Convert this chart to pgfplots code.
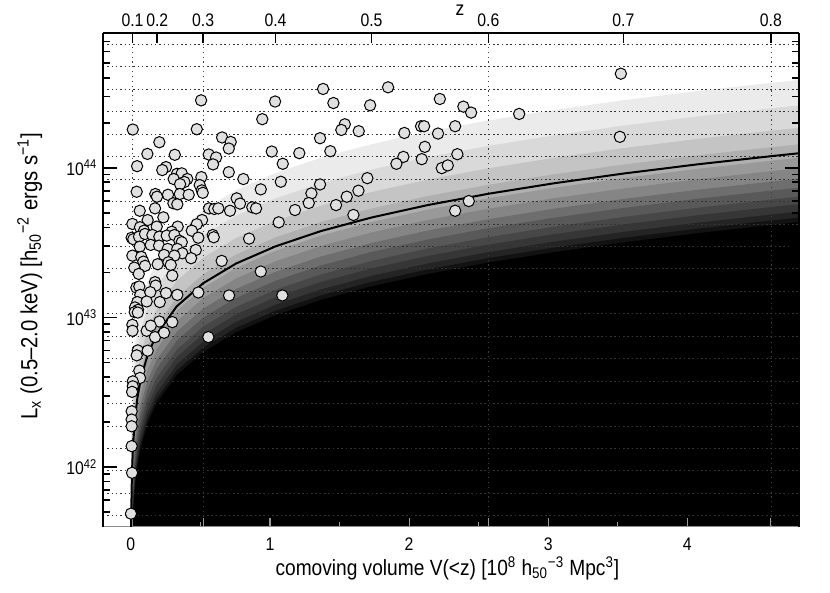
\documentclass[border=0pt]{standalone}
\usepackage{fontspec}
\setmainfont{Liberation Sans}[FakeStretch=0.87]
\usepackage{pgfplots}
\usepackage{pgfplotstable}
\pgfplotsset{compat=1.18}

% flux limit curve: comoving volume V [1e8] and log10 Lx
\pgfplotstableread{
V lg
0.000114 40.761
0.000268 40.994
0.000517 41.176
0.000884 41.324
0.00205 41.558
0.00392 41.740
0.00663 41.889
0.01031 42.016
0.01506 42.126
0.02822 42.309
0.04681 42.460
0.0714 42.588
0.1205 42.750
0.1852 42.886
0.3295 43.074
0.5203 43.229
0.7575 43.361
1.0396 43.475
1.3647 43.577
1.7302 43.668
2.1336 43.751
2.5721 43.827
3.0429 43.897
3.5433 43.962
4.0711 44.023
4.6234 44.080
4.851 44.102
}\limitcurve

% clusters: V and log10 Lx
\pgfplotstableread{
V lg
0.505 44.451
0.014 44.256
0.474 44.258
0.945 44.325
0.205 44.171
0.656 44.203
0.718 44.173
0.704 44.129
0.119 44.093
0.316 44.087
0.560 44.089
0.613 44.069
0.591 44.023
0.045 44.011
0.253 44.005
0.226 43.985
0.704 43.971
0.332 43.960
0.366 43.963
0.308 43.925
0.406 43.925
0.507 43.938
0.385 43.905
0.354 43.891
0.809 43.925
0.495 43.885
0.510 43.849
0.934 43.856
0.042 43.840
0.176 43.825
0.267 43.820
0.352 43.825
0.416 43.820
0.188 43.807
0.517 43.833
0.761 43.796
0.785 43.761
1.382 44.527
1.849 44.538
1.037 44.443
1.456 44.433
1.720 44.418
2.221 44.460
2.390 44.409
2.446 44.369
2.791 44.360
1.538 44.291
1.513 44.253
1.638 44.245
1.360 44.198
1.966 44.233
2.086 44.278
2.108 44.278
2.208 44.229
2.331 44.278
1.013 44.109
1.211 44.098
1.434 44.111
2.113 44.140
1.092 44.027
1.959 44.073
1.909 44.027
2.091 44.058
2.347 44.091
2.235 43.998
2.278 44.016
1.078 43.907
1.360 43.889
1.700 43.931
1.298 43.829
1.279 43.765
1.180 43.718
1.475 43.751
1.552 43.807
1.636 43.847
1.063 43.636
1.600 43.685
2.331 43.713
2.429 43.778
3.522 44.629
3.515 44.207
0.306 43.763
0.334 43.756
0.873 43.736
0.900 43.729
0.064 43.713
0.174 43.729
0.234 43.669
0.121 43.651
0.562 43.729
0.600 43.725
0.629 43.729
0.713 43.713
0.512 43.651
0.474 43.623
0.011 43.625
0.066 43.603
0.095 43.580
0.186 43.607
0.337 43.607
0.294 43.573
0.438 43.580
0.006 43.533
0.018 43.523
0.059 43.540
0.102 43.558
0.155 43.551
0.205 43.540
0.258 43.547
0.313 43.551
0.349 43.513
0.366 43.503
0.485 43.533
0.589 43.551
0.596 43.536
0.850 43.527
0.064 43.473
0.143 43.485
0.203 43.480
0.265 43.458
0.334 43.458
0.370 43.429
0.011 43.413
0.075 43.405
0.090 43.373
0.239 43.418
0.313 43.413
0.467 43.451
0.433 43.396
0.102 43.345
0.025 43.333
0.193 43.356
0.270 43.369
0.287 43.351
0.653 43.378
0.057 43.291
0.298 43.280
0.934 43.307
0.040 43.200
0.061 43.207
0.174 43.236
0.179 43.213
0.068 43.151
0.140 43.169
0.253 43.163
0.334 43.151
0.485 43.167
0.706 43.147
0.047 43.103
0.114 43.107
0.208 43.103
0.030 43.067
0.052 43.051
0.028 43.036
0.050 43.033
0.011 42.951
0.205 42.973
0.298 42.969
0.012 42.911
0.114 42.911
0.143 42.945
0.174 42.869
0.239 42.898
1.089 43.147
0.557 42.869
0.050 42.780
0.042 42.747
0.121 42.778
0.061 42.645
0.066 42.596
0.014 42.573
0.014 42.540
0.009 42.503
0.006 42.373
0.006 42.318
0.006 42.273
0.006 42.140
0.009 41.962
0.001 41.689
}\clusters

\begin{document}
\begin{tikzpicture}
\begin{axis}[
    set layers,
    clip mode=individual,
    scale only axis,
    width=417.4pt, height=296.4pt,
    xmin=-0.2, xmax=4.8,
    ymode=log, ymin=4e41, ymax=8e44,
    separate axis lines,
    every outer x axis line/.append style={black!45, line width=0.8pt},
    every outer y axis line/.append style={black, line width=1.2pt},
    xtick={0,1,2,3,4},
    minor x tick num=1,
    xtick pos=left,
    xtick style={black!40, line width=0.7pt, /pgfplots/major tick length=5pt, /pgfplots/minor tick length=3pt},
    ytick={1e42,1e43,1e44},
    yticklabels={10\textsuperscript{42},10\textsuperscript{43},10\textsuperscript{44}},
    minor ytick={5e41,6e41,7e41,8e41,9e41,2e42,3e42,4e42,5e42,6e42,7e42,8e42,9e42,2e43,3e43,4e43,5e43,6e43,7e43,8e43,9e43,2e44,3e44,4e44,5e44,6e44,7e44},
    ytick style={black, line width=1pt},
    major tick length=8.5pt, minor tick length=4pt,
    extra x ticks={0.012,0.52,2.57,4.60},
    extra x tick labels={},
    extra x tick style={grid=major, major tick length=0pt, major grid style={black!75, line width=0.4pt, dash pattern=on 0.7pt off 2.2pt}},
    extra y ticks={4.732e41,6.683e41,9.441e41,1.334e42,1.884e42,2.661e42,3.758e42,5.309e42,7.499e42,1.059e43,1.496e43,2.113e43,2.985e43,4.217e43,5.957e43,8.414e43,1.189e44,1.679e44,2.371e44,3.350e44,4.732e44,6.683e44},
    extra y tick labels={},
    extra y tick style={grid=major, major tick length=0pt, major grid style={black!80, line width=0.45pt, dash pattern=on 0.9pt off 1.7pt}},
    /pgf/number format/assume math mode=true,
    ticklabel style={font=\fontsize{10.9}{12}\selectfont},
    xticklabel style={yshift=-3pt},
    every axis x label/.style={at={(rel axis cs:0.495,0)}, anchor=center, yshift=-25pt, font=\fontsize{13.2}{15}\selectfont},
    every axis y label/.style={at={(rel axis cs:-0.1054,0.507)}, rotate=90, anchor=center, font=\fontsize{14}{16}\selectfont},
    xlabel={comoving volume V(<z) [10\textsuperscript{8} h\textsubscript{50}\textsuperscript{−3} Mpc\textsuperscript{3}]},
    ylabel={L\textsubscript{x} (0.5–2.0 keV) [h\textsubscript{50}\textsuperscript{−2} ergs s\textsuperscript{−1}]},
]
% grey bands of the survey coverage, lightest first
\addplot[on layer=axis background, draw=none, fill=black!8] table[x=V, y expr=10^(\thisrow{lg}+0.49)] {\limitcurve} -- (axis cs:4.851,1e41) -- (axis cs:0.000114,1e41) -- cycle;
\addplot[on layer=axis background, draw=none, fill=black!15] table[x=V, y expr=10^(\thisrow{lg}+0.32)] {\limitcurve} -- (axis cs:4.851,1e41) -- (axis cs:0.000114,1e41) -- cycle;
\addplot[on layer=axis background, draw=none, fill=black!23] table[x=V, y expr=10^(\thisrow{lg}+0.17)] {\limitcurve} -- (axis cs:4.851,1e41) -- (axis cs:0.000114,1e41) -- cycle;
\addplot[on layer=axis background, draw=none, fill=black!31] table[x=V, y expr=10^(\thisrow{lg}+0.06)] {\limitcurve} -- (axis cs:4.851,1e41) -- (axis cs:0.000114,1e41) -- cycle;
\addplot[on layer=axis background, draw=none, fill=black!40] table[x=V, y expr=10^(\thisrow{lg}-0.03)] {\limitcurve} -- (axis cs:4.851,1e41) -- (axis cs:0.000114,1e41) -- cycle;
\addplot[on layer=axis background, draw=none, fill=black!48] table[x=V, y expr=10^(\thisrow{lg}-0.10)] {\limitcurve} -- (axis cs:4.851,1e41) -- (axis cs:0.000114,1e41) -- cycle;
\addplot[on layer=axis background, draw=none, fill=black!57] table[x=V, y expr=10^(\thisrow{lg}-0.17)] {\limitcurve} -- (axis cs:4.851,1e41) -- (axis cs:0.000114,1e41) -- cycle;
\addplot[on layer=axis background, draw=none, fill=black!65] table[x=V, y expr=10^(\thisrow{lg}-0.23)] {\limitcurve} -- (axis cs:4.851,1e41) -- (axis cs:0.000114,1e41) -- cycle;
\addplot[on layer=axis background, draw=none, fill=black!72] table[x=V, y expr=10^(\thisrow{lg}-0.29)] {\limitcurve} -- (axis cs:4.851,1e41) -- (axis cs:0.000114,1e41) -- cycle;
\addplot[on layer=axis background, draw=none, fill=black!79] table[x=V, y expr=10^(\thisrow{lg}-0.34)] {\limitcurve} -- (axis cs:4.851,1e41) -- (axis cs:0.000114,1e41) -- cycle;
\addplot[on layer=axis background, draw=none, fill=black!86] table[x=V, y expr=10^(\thisrow{lg}-0.39)] {\limitcurve} -- (axis cs:4.851,1e41) -- (axis cs:0.000114,1e41) -- cycle;
\addplot[on layer=axis background, draw=none, fill=black!93] table[x=V, y expr=10^(\thisrow{lg}-0.43)] {\limitcurve} -- (axis cs:4.851,1e41) -- (axis cs:0.000114,1e41) -- cycle;
\addplot[on layer=axis background, draw=none, fill=black] table[x=V, y expr=10^(\thisrow{lg}-0.46)] {\limitcurve} -- (axis cs:4.851,1e41) -- (axis cs:0.000114,1e41) -- cycle;
% limit curve
\addplot[black, line width=1.2pt] table[x=V, y expr=10^(\thisrow{lg})] {\limitcurve};
% clusters
\addplot[only marks, mark=*, mark size=3.4pt, mark options={fill=black!12, draw=black, line width=0.6pt}] table[x=V, y expr=10^(\thisrow{lg})] {\clusters};
\coordinate (fbl) at (rel axis cs:0,0);
\coordinate (ftr) at (rel axis cs:1,1);
\end{axis}
% redshift scale on top
\begin{axis}[
    scale only axis,
    width=417.4pt, height=296.4pt,
    xmin=-0.2, xmax=4.8, ymin=0, ymax=1,
    axis x line*=top, axis y line=none,
    x axis line style={-, line width=1.2pt},
    xtick={0.012,0.19,0.52,1.04,1.73,2.57,3.54,4.60},
    xticklabels={0.1,0.2,0.3,0.4,0.5,0.6,0.7,0.8},
    xtick style={black, line width=1pt},
    tick align=inside, major tick length=6pt,
    ticklabel style={font=\fontsize{10.9}{12}\selectfont},
    every axis x label/.style={at={(rel axis cs:0.513,1)}, anchor=center, yshift=13.6pt, font=\fontsize{12}{14}\selectfont},
    xlabel={z},
]
\end{axis}
\pgfresetboundingbox
\path[use as bounding box] ([shift={(-61.8pt,-39.8pt)}]fbl) rectangle ([shift={(18.8pt,19.6pt)}]ftr);
\end{tikzpicture}
\end{document}
